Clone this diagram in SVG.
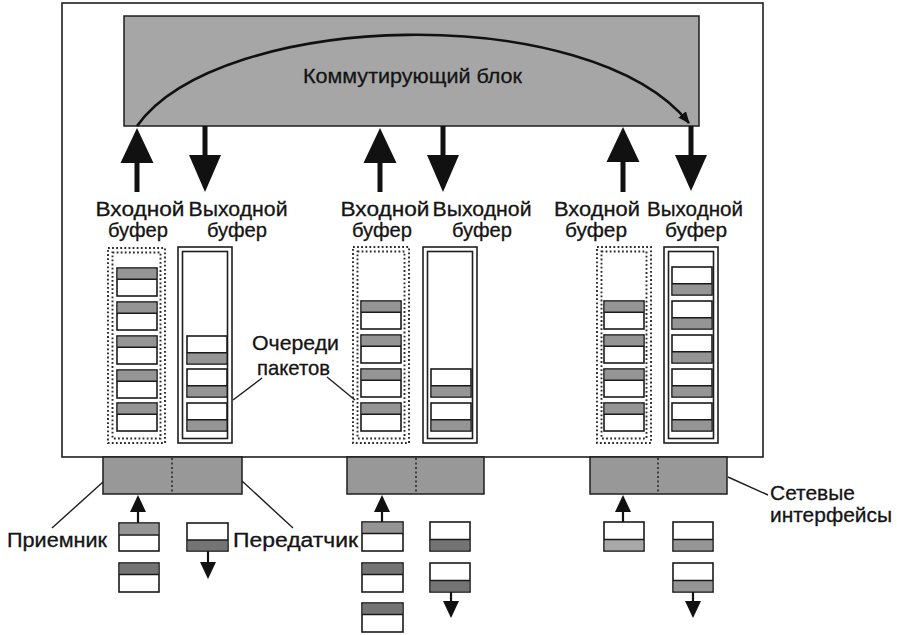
<svg xmlns="http://www.w3.org/2000/svg" xmlns:xlink="http://www.w3.org/1999/xlink" width="897" height="635" viewBox="0 0 897 635">
  <style>
    .txt { font-family: "Liberation Sans", Arial, sans-serif; fill: #141414; stroke: #141414; stroke-width: 0.3; }
    .lbl { font-size: 20.5px; text-anchor: middle; }
    .big { font-size: 20.5px; }
    .frame { fill: #ffffff; stroke: #1e1e1e; stroke-width: 1.6; }
    .block { fill: #a6a6a6; stroke: #1e1e1e; stroke-width: 1.5; }
    .iface { fill: #989898; stroke: #1e1e1e; stroke-width: 1.5; }
    .divider { stroke: #2a2a2a; stroke-width: 1.6; stroke-dasharray: 2 2.5; fill: none; }
    .dotbox { fill: none; stroke: #2a2a2a; stroke-width: 1.9; stroke-dasharray: 1.8 2.3; }
    .solidbox { fill: #ffffff; stroke: #1e1e1e; stroke-width: 1.6; }
    .pkt { fill: #ffffff; stroke: #1a1a1a; stroke-width: 1.6; }
    .g1 { fill: #959595; }
    .g2 { fill: #747474; }
    .g3 { fill: #a8a8a8; }
    .leader { stroke: #1e1e1e; stroke-width: 1.4; fill: none; }
    .shaft { stroke: #111111; fill: none; }
    .head { fill: #111111; }
  </style>
  <defs>
    <marker id="curveHead" viewBox="0 0 12 10" refX="11" refY="5" markerWidth="12" markerHeight="10" markerUnits="userSpaceOnUse" orient="auto">
      <path d="M0,0 L12,5 L0,10 Z" fill="#111111"/>
    </marker>
    <!-- packet with header on top -->
    <g id="pktTop">
      <rect class="pkt" x="0" y="0" width="40" height="28"/>
      <rect class="g1" x="0.8" y="0.8" width="38.4" height="10.4"/>
      <line x1="0" y1="11.2" x2="40" y2="11.2" stroke="#1a1a1a" stroke-width="1.6"/>
    </g>
    <!-- packet with header at the bottom -->
    <g id="pktBottom">
      <rect class="pkt" x="0" y="0" width="40" height="28"/>
      <rect class="g1" x="0.8" y="16.8" width="38.4" height="10.4"/>
      <line x1="0" y1="16.8" x2="40" y2="16.8" stroke="#1a1a1a" stroke-width="1.6"/>
    </g>
  </defs>

  <rect width="897" height="635" fill="#ffffff"/>

  <!-- switch housing -->
  <rect id="frame" class="frame" x="62" y="3" width="701" height="454"/>

  <g id="switch-block">
    <rect class="block" x="124" y="16" width="575" height="110"/>
    <text class="txt big" x="303" y="83" textLength="219" lengthAdjust="spacingAndGlyphs">Коммутирующий блок</text>
  </g>

  <!-- connectors -->
  <g id="connectors">
    <path class="shaft" d="M137,126 C220,10 590,0 689,123" stroke-width="2.6" marker-end="url(#curveHead)"/>

    <!-- port 1 -->
    <line class="shaft" x1="137" y1="192" x2="137" y2="160" stroke-width="5"/>
    <polygon class="head" points="137,128 153.5,163 120.5,163"/>
    <line class="shaft" x1="205" y1="126" x2="205" y2="158" stroke-width="5"/>
    <polygon class="head" points="205,192 221,155 189,155"/>

    <!-- port 2 -->
    <line class="shaft" x1="380" y1="192" x2="380" y2="160" stroke-width="5"/>
    <polygon class="head" points="380,128 396.5,163 363.5,163"/>
    <line class="shaft" x1="443" y1="126" x2="443" y2="158" stroke-width="5"/>
    <polygon class="head" points="443,192 459,155 427,155"/>

    <!-- port 3 -->
    <line class="shaft" x1="623" y1="192" x2="623" y2="160" stroke-width="5"/>
    <polygon class="head" points="623,127 639.5,162 606.5,162"/>
    <line class="shaft" x1="691" y1="126" x2="691" y2="158" stroke-width="5"/>
    <polygon class="head" points="691,191 707,155 675,155"/>

    <!-- receive / transmit arrows -->
    <line class="shaft" x1="138" y1="523" x2="138" y2="508" stroke-width="2.2"/>
    <polygon class="head" points="138,495 146,512 130,512"/>
    <line class="shaft" x1="208" y1="551" x2="208" y2="565" stroke-width="2.2"/>
    <polygon class="head" points="208,579 216,562 200,562"/>

    <line class="shaft" x1="382" y1="522" x2="382" y2="508" stroke-width="2.2"/>
    <polygon class="head" points="382,495 390,512 374,512"/>
    <line class="shaft" x1="451" y1="591" x2="451" y2="604" stroke-width="2.2"/>
    <polygon class="head" points="451,618 459,601 443,601"/>

    <line class="shaft" x1="623" y1="522" x2="623" y2="508" stroke-width="2.2"/>
    <polygon class="head" points="623,495 631,512 615,512"/>
    <line class="shaft" x1="693" y1="591" x2="693" y2="604" stroke-width="2.2"/>
    <polygon class="head" points="693,618 701,601 685,601"/>

    <!-- callout leaders -->
    <line class="leader" x1="262" y1="378" x2="233" y2="400"/>
    <line class="leader" x1="327" y1="377" x2="355" y2="400"/>
    <line class="leader" x1="103" y1="482" x2="52" y2="528"/>
    <line class="leader" x1="242" y1="481" x2="293" y2="528"/>
    <line class="leader" x1="728" y1="477" x2="768" y2="495"/>
  </g>

  <!-- buffer captions -->
  <g id="captions" class="txt lbl">
    <text x="140" y="216" textLength="89" lengthAdjust="spacingAndGlyphs">Входной</text>
    <text x="238" y="216" textLength="99" lengthAdjust="spacingAndGlyphs">Выходной</text>
    <text x="138" y="237" textLength="60" lengthAdjust="spacingAndGlyphs">буфер</text>
    <text x="237" y="237" textLength="60" lengthAdjust="spacingAndGlyphs">буфер</text>

    <text x="385" y="216" textLength="89" lengthAdjust="spacingAndGlyphs">Входной</text>
    <text x="482" y="216" textLength="99" lengthAdjust="spacingAndGlyphs">Выходной</text>
    <text x="382" y="237" textLength="60" lengthAdjust="spacingAndGlyphs">буфер</text>
    <text x="482" y="237" textLength="60" lengthAdjust="spacingAndGlyphs">буфер</text>

    <text x="597" y="216" textLength="86" lengthAdjust="spacingAndGlyphs">Входной</text>
    <text x="695" y="216" textLength="96" lengthAdjust="spacingAndGlyphs">Выходной</text>
    <text x="596" y="237" textLength="62" lengthAdjust="spacingAndGlyphs">буфер</text>
    <text x="696" y="237" textLength="62" lengthAdjust="spacingAndGlyphs">буфер</text>
  </g>

  <!-- port 1 buffers -->
  <g id="in-buffer-1">
    <rect class="dotbox" x="108" y="248" width="57" height="195"/>
    <rect class="dotbox" x="112.5" y="252.5" width="48" height="186"/>
    <use xlink:href="#pktTop" x="117" y="268"/>
    <use xlink:href="#pktTop" x="117" y="302"/>
    <use xlink:href="#pktTop" x="117" y="336"/>
    <use xlink:href="#pktTop" x="117" y="370"/>
    <use xlink:href="#pktTop" x="117" y="403"/>
  </g>
  <g id="out-buffer-1">
    <rect class="solidbox" x="178" y="247" width="54" height="196"/>
    <rect class="solidbox" x="182.5" y="251.5" width="45" height="187"/>
    <use xlink:href="#pktBottom" x="187" y="336"/>
    <use xlink:href="#pktBottom" x="187" y="369"/>
    <use xlink:href="#pktBottom" x="187" y="403"/>
  </g>

  <!-- port 2 buffers -->
  <g id="in-buffer-2">
    <rect class="dotbox" x="353" y="247" width="56" height="196"/>
    <rect class="dotbox" x="357.5" y="251.5" width="47" height="187"/>
    <use xlink:href="#pktTop" x="361" y="301"/>
    <use xlink:href="#pktTop" x="361" y="335"/>
    <use xlink:href="#pktTop" x="361" y="369"/>
    <use xlink:href="#pktTop" x="361" y="403"/>
  </g>
  <g id="out-buffer-2">
    <rect class="solidbox" x="423" y="247" width="54" height="196"/>
    <rect class="solidbox" x="427.5" y="251.5" width="45" height="187"/>
    <use xlink:href="#pktBottom" x="431" y="369"/>
    <use xlink:href="#pktBottom" x="431" y="403"/>
  </g>

  <!-- port 3 buffers -->
  <g id="in-buffer-3">
    <rect class="dotbox" x="597" y="247" width="54" height="196"/>
    <rect class="dotbox" x="601.5" y="251.5" width="45" height="187"/>
    <use xlink:href="#pktTop" x="604" y="301"/>
    <use xlink:href="#pktTop" x="604" y="335"/>
    <use xlink:href="#pktTop" x="604" y="369"/>
    <use xlink:href="#pktTop" x="604" y="403"/>
  </g>
  <g id="out-buffer-3">
    <rect class="solidbox" x="664" y="247" width="54" height="196"/>
    <rect class="solidbox" x="668.5" y="251.5" width="45" height="187"/>
    <use xlink:href="#pktBottom" x="672" y="267"/>
    <use xlink:href="#pktBottom" x="672" y="301"/>
    <use xlink:href="#pktBottom" x="672" y="335"/>
    <use xlink:href="#pktBottom" x="672" y="369"/>
    <use xlink:href="#pktBottom" x="672" y="403"/>
  </g>

  <g id="queue-label" class="txt" style="font-size:21px">
    <text x="252" y="350" textLength="87" lengthAdjust="spacingAndGlyphs">Очереди</text>
    <text x="257" y="375" textLength="73" lengthAdjust="spacingAndGlyphs">пакетов</text>
  </g>

  <!-- network interfaces -->
  <g id="iface-1">
    <rect class="iface" x="103" y="457" width="139" height="37"/>
    <line class="divider" x1="172" y1="458" x2="172" y2="493"/>
  </g>
  <g id="iface-2">
    <rect class="iface" x="347" y="457" width="137" height="37"/>
    <line class="divider" x1="416" y1="458" x2="416" y2="493"/>
  </g>
  <g id="iface-3">
    <rect class="iface" x="590" y="457" width="137" height="37"/>
    <line class="divider" x1="658" y1="458" x2="658" y2="493"/>
  </g>

  <!-- packets on the wire, port 1 -->
  <g id="wire-1">
    <rect class="pkt" x="119" y="523" width="40" height="28"/>
    <rect class="g1" x="119.8" y="523.8" width="38.4" height="10.9"/>
    <line x1="119" y1="535" x2="159" y2="535" stroke="#1a1a1a" stroke-width="1.6"/>
    <rect class="pkt" x="119" y="563" width="40" height="29"/>
    <rect class="g2" x="119.8" y="563.8" width="38.4" height="10.4"/>
    <line x1="119" y1="574.5" x2="159" y2="574.5" stroke="#1a1a1a" stroke-width="1.6"/>
    <rect class="pkt" x="187" y="523" width="41" height="28"/>
    <rect class="g2" x="187.8" y="540" width="39.4" height="10.2"/>
    <line x1="187" y1="540" x2="228" y2="540" stroke="#1a1a1a" stroke-width="1.6"/>
  </g>

  <!-- packets on the wire, port 2 -->
  <g id="wire-2">
    <rect class="pkt" x="362" y="522" width="41" height="29"/>
    <rect class="g1" x="362.8" y="522.8" width="39.4" height="10.4"/>
    <line x1="362" y1="533.5" x2="403" y2="533.5" stroke="#1a1a1a" stroke-width="1.6"/>
    <rect class="pkt" x="362" y="563" width="41" height="29"/>
    <rect class="g2" x="362.8" y="563.8" width="39.4" height="10.4"/>
    <line x1="362" y1="574.5" x2="403" y2="574.5" stroke="#1a1a1a" stroke-width="1.6"/>
    <rect class="pkt" x="362" y="603" width="41" height="29"/>
    <rect class="g2" x="362.8" y="603.8" width="39.4" height="10.4"/>
    <line x1="362" y1="614.5" x2="403" y2="614.5" stroke="#1a1a1a" stroke-width="1.6"/>
    <rect class="pkt" x="430" y="522" width="40" height="29"/>
    <rect class="g2" x="430.8" y="539.5" width="38.4" height="10.7"/>
    <line x1="430" y1="539.5" x2="470" y2="539.5" stroke="#1a1a1a" stroke-width="1.6"/>
    <rect class="pkt" x="430" y="563" width="40" height="29"/>
    <rect class="g2" x="430.8" y="580.5" width="38.4" height="10.7"/>
    <line x1="430" y1="580.5" x2="470" y2="580.5" stroke="#1a1a1a" stroke-width="1.6"/>
  </g>

  <!-- packets on the wire, port 3 -->
  <g id="wire-3">
    <rect class="pkt" x="604" y="522" width="40" height="29"/>
    <rect class="g3" x="604.8" y="539.5" width="38.4" height="10.7"/>
    <line x1="604" y1="539.5" x2="644" y2="539.5" stroke="#1a1a1a" stroke-width="1.6"/>
    <rect class="pkt" x="673" y="522" width="40" height="29"/>
    <rect class="g1" x="673.8" y="539.5" width="38.4" height="10.7"/>
    <line x1="673" y1="539.5" x2="713" y2="539.5" stroke="#1a1a1a" stroke-width="1.6"/>
    <rect class="pkt" x="673" y="563" width="40" height="29"/>
    <rect class="g1" x="673.8" y="580.5" width="38.4" height="10.7"/>
    <line x1="673" y1="580.5" x2="713" y2="580.5" stroke="#1a1a1a" stroke-width="1.6"/>
  </g>

  <g id="bottom-labels" class="txt big">
    <text x="7" y="547" textLength="100" lengthAdjust="spacingAndGlyphs">Приемник</text>
    <text x="233" y="547" textLength="125" lengthAdjust="spacingAndGlyphs">Передатчик</text>
    <text x="770" y="500" textLength="85" lengthAdjust="spacingAndGlyphs">Сетевые</text>
    <text x="770" y="522" textLength="122" lengthAdjust="spacingAndGlyphs">интерфейсы</text>
  </g>
</svg>
